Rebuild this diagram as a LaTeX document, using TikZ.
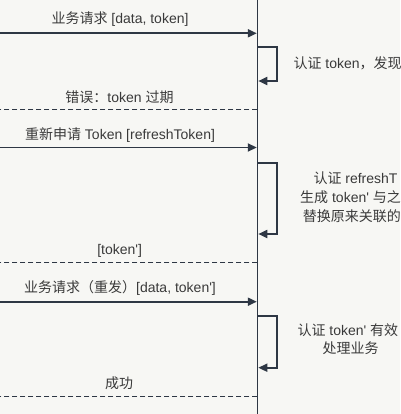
\documentclass[tikz,border=0pt]{standalone}
\usepackage{fontspec}
\setmainfont{Liberation Sans}[Ligatures=TeXOff]
\newfontfamily\cjk{Noto Sans CJK SC}
\usetikzlibrary{arrows.meta}
\definecolor{bgc}{RGB}{247,247,244}
\definecolor{linec}{RGB}{46,55,68}
\definecolor{txtc}{RGB}{58,58,58}
\tikzset{
  msgline/.style={draw=linec, line width=1.8pt, -{Triangle[length=9pt,width=8pt]}},
  replyline/.style={draw=linec, line width=1.5pt, dash pattern=on 5pt off 3pt},
  selfloop/.style={draw=linec, line width=1.8pt, -{Triangle[length=9pt,width=8pt]}},
  lifeline/.style={draw=linec, line width=1.5pt},
  lbl/.style={text=txtc, font=\fontsize{14}{19}\selectfont, inner sep=0pt, anchor=base},
  rlbl/.style={text=txtc, font=\fontsize{14}{19}\selectfont, inner sep=0pt, anchor=base west},
}
\begin{document}
\begin{tikzpicture}[x=1pt,y=-1pt]
\fill[bgc] (0,0) rectangle (400,414);
\useasboundingbox (0,0) rectangle (400,414);
% lifeline
\coordinate (LT) at (257.3,0);
\coordinate (LB) at (257.3,414);
\draw[lifeline] (LT) -- (LB);
% message 1
\coordinate (m1s) at (0,33.3);
\coordinate (m1e) at (256.8,33.3);
\draw[msgline] (m1s) -- (m1e);
\node[lbl] (t1) at (120,24) {{\cjk 业务请求} [data, token]};
% self loop 1
\coordinate (s1a) at (258,47.3);
\coordinate (s1b) at (258.3,81);
\draw[selfloop] (s1a) -- (276.7,47.3) -- (276.7,81) -- (s1b);
\node[rlbl] (r1) at (293.3,68.3) {{\cjk 认证} token{\cjk ，发现}};
% reply 1
\coordinate (d1s) at (257.3,109.3);
\coordinate (d1e) at (0,109.3);
\draw[replyline] (d1s) -- (d1e);
\node[lbl] (t2) at (119.5,102.3) {{\cjk 错误：}token {\cjk 过期}};
% message 2
\coordinate (m2s) at (0,147.5);
\coordinate (m2e) at (256.8,147.5);
\draw[msgline] (m2s) -- (m2e);
\node[lbl] (t3) at (120,139.5) {{\cjk 重新申请} Token [refreshToken]};
% self loop 2
\coordinate (s2a) at (258,162.7);
\coordinate (s2b) at (258.3,234);
\draw[selfloop] (s2a) -- (276.7,162.7) -- (276.7,234) -- (s2b);
\node[rlbl] (r2a) at (313.3,183.3) {{\cjk 认证} refreshT};
\node[rlbl] (r2b) at (300,202.3) {{\cjk 生成} token' {\cjk 与之}};
\node[rlbl] (r2c) at (302.7,221) {{\cjk 替换原来关联的}};
% reply 2
\coordinate (d2s) at (257.3,262.3);
\coordinate (d2e) at (0,262.3);
\draw[replyline] (d2s) -- (d2e);
\node[lbl] (t4) at (119.7,254) {[token']};
% message 3
\coordinate (m3s) at (0,301.7);
\coordinate (m3e) at (256.8,301.7);
\draw[msgline] (m3s) -- (m3e);
\node[lbl] (t5) at (120,292) {{\cjk 业务请求（重发）}[data, token']};
% self loop 3
\coordinate (s3a) at (258,315.7);
\coordinate (s3b) at (258.3,367.7);
\draw[selfloop] (s3a) -- (276.7,315.7) -- (276.7,367.7) -- (s3b);
\node[rlbl] (r3a) at (297.3,335) {{\cjk 认证} token' {\cjk 有效}};
\node[lbl] (r3b) at (350.5,353.3) {{\cjk 处理业务}};
% reply 3
\coordinate (d3s) at (257.3,396.7);
\coordinate (d3e) at (0,396.7);
\draw[replyline] (d3s) -- (d3e);
\node[lbl] (t6) at (119,388) {{\cjk 成功}};
\end{tikzpicture}
\end{document}
